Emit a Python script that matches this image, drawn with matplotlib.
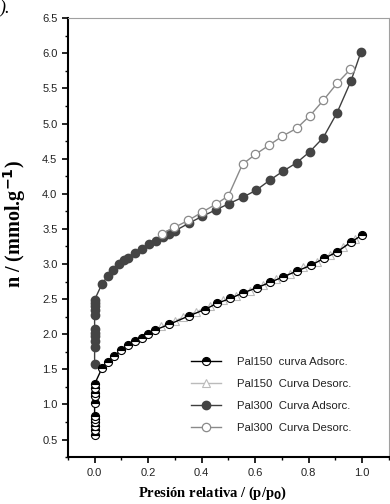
import matplotlib
matplotlib.use("Agg")
import matplotlib.pyplot as plt
from matplotlib.ticker import MultipleLocator

# Pal300 adsorption (filled dark circles)
pal300_ads_x = [0.0, 0.0, 0.0, 0.0, 0.0, 0.0, 0.0, 0.0, 0.0, 0.0, 0.0,
                0.028, 0.05, 0.07, 0.09, 0.11, 0.126, 0.151, 0.178, 0.204,
                0.229, 0.255, 0.277, 0.30, 0.352, 0.403, 0.453, 0.503, 0.554,
                0.604, 0.654, 0.704, 0.755, 0.805, 0.855, 0.906, 0.958, 0.996]
pal300_ads_y = [1.58, 1.82, 1.90, 1.97, 2.02, 2.07, 2.28, 2.34, 2.40, 2.44, 2.49,
                2.72, 2.83, 2.92, 3.00, 3.05, 3.09, 3.16, 3.21, 3.28,
                3.33, 3.38, 3.42, 3.47, 3.58, 3.68, 3.77, 3.86, 3.95,
                4.05, 4.19, 4.32, 4.44, 4.60, 4.80, 5.15, 5.60, 6.02]

# Pal300 desorption (open circles)
pal300_des_x = [0.956, 0.906, 0.855, 0.805, 0.755, 0.702, 0.652, 0.601, 0.553,
                0.50, 0.453, 0.403, 0.35, 0.298, 0.251]
pal300_des_y = [5.77, 5.57, 5.33, 5.11, 4.93, 4.82, 4.69, 4.56, 4.42,
                3.97, 3.85, 3.74, 3.62, 3.52, 3.43]

# Pal150 adsorption (half filled circles)
pal150_ads_x = [0.0, 0.0, 0.0, 0.0, 0.0, 0.0, 0.0, 0.0, 0.0, 0.0, 0.0,
                0.028, 0.049, 0.072, 0.098, 0.126, 0.151, 0.176, 0.20, 0.226,
                0.279, 0.352, 0.411, 0.458, 0.508, 0.556, 0.606, 0.657, 0.704,
                0.757, 0.808, 0.858, 0.906, 0.958, 0.999]
pal150_ads_y = [0.57, 0.64, 0.70, 0.745, 0.79, 0.84, 1.02, 1.115, 1.17, 1.23, 1.29,
                1.52, 1.61, 1.685, 1.77, 1.84, 1.90, 1.95, 2.01, 2.06,
                2.14, 2.26, 2.35, 2.44, 2.51, 2.59, 2.66, 2.74, 2.815,
                2.90, 2.98, 3.08, 3.17, 3.31, 3.41]

# Pal150 desorption (open triangles)
pal150_des_x = [0.975, 0.93, 0.88, 0.83, 0.78, 0.73, 0.68, 0.63, 0.58,
                0.53, 0.48, 0.43, 0.38, 0.33, 0.30, 0.25]
pal150_des_y = [3.36, 3.24, 3.13, 3.03, 2.95, 2.86, 2.78, 2.70, 2.62,
                2.55, 2.48, 2.40, 2.32, 2.24, 2.19, 2.11]

labels = ["Pal150  curva Adsorc.", "Pal150  Curva Desorc.",
          "Pal300  Curva Adsorc.", "Pal300  Curva Desorc."]

plt.rcParams['font.family'] = ['Liberation Sans', 'DejaVu Sans']

fig = plt.figure(figsize=(3.9, 5.04), dpi=100)
ax = fig.add_axes([0.174, 0.093, 0.823, 0.871])

ax.plot(pal150_ads_x, pal150_ads_y, color='black', lw=1.0, marker='o', ms=5.8,
        fillstyle='top', mfc='black', mfcalt='white', mec='black', mew=0.8,
        label=labels[0], zorder=4)
ax.plot(pal150_des_x, pal150_des_y, color='#bbbbbb', lw=1.0, marker='^', ms=5.5,
        mfc='white', mec='#bbbbbb', mew=0.8, label=labels[1], zorder=3)
ax.plot(pal300_ads_x, pal300_ads_y, color='#3f3f3f', lw=1.0, marker='o', ms=6.0,
        mfc='#444444', mec='#444444', label=labels[2], zorder=3)
ax.plot(pal300_des_x, pal300_des_y, color='#8a8a8a', lw=1.0, marker='o', ms=6.0,
        mfc='white', mec='#8a8a8a', mew=0.9, label=labels[3], zorder=4)

ax.set_xlim(-0.1, 1.1)
ax.set_ylim(0.25, 6.5)
ax.xaxis.set_major_locator(MultipleLocator(0.2))
ax.xaxis.set_minor_locator(MultipleLocator(0.1))
ax.yaxis.set_major_locator(MultipleLocator(0.5))
ax.yaxis.set_minor_locator(MultipleLocator(0.25))

for side in ['left', 'bottom']:
    ax.spines[side].set_linewidth(1.5)
    ax.spines[side].set_color('black')
for side in ['top', 'right']:
    ax.spines[side].set_linewidth(0.8)
    ax.spines[side].set_color('#a0a0a0')

ax.tick_params(which='major', direction='out', length=4, width=1.2,
               labelsize=8, labelcolor='#222222', top=False, right=False)
ax.tick_params(which='minor', direction='out', length=2.5, width=1.0,
               top=False, right=False)

ax.set_ylabel("n / (mmol.g$^{\\mathbf{-1}}$)", family='Liberation Serif',
              fontweight='bold', fontsize=14.5)
ax.yaxis.set_label_coords(-0.125, 0.53)
ax.set_xlabel("Presión relativa / (p/p$_{\\mathbf{0}}$)", family='Liberation Serif',
              fontweight='bold', fontsize=10.5)
ax.xaxis.set_label_coords(0.45, -0.062)

ax.legend(loc='upper left', bbox_to_anchor=(0.365, 0.24), frameon=False,
          borderpad=0, fontsize=8.2, handlelength=2.7, labelspacing=1.05,
          handletextpad=1.4, labelcolor='#222222')

fig.text(0.0, 1.0, ").", fontsize=13, style='italic', family='Liberation Serif',
         va='top', ha='left')

fig.savefig("out.png", dpi=100)
